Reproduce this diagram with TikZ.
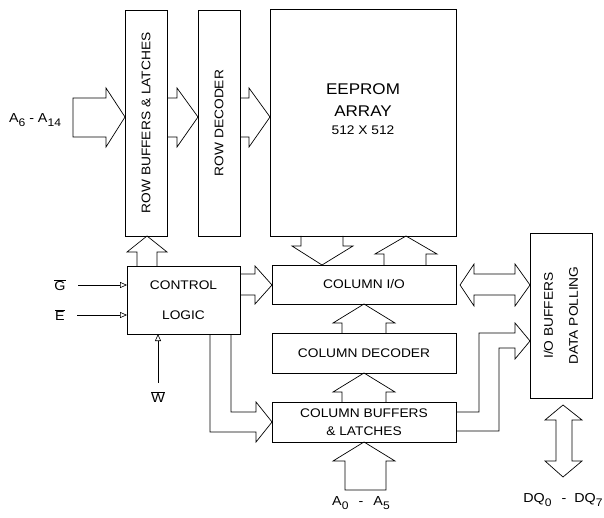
\documentclass[tikz,border=0pt]{standalone}
\usepackage{fontspec}
\setmainfont{Liberation Sans}[FakeStretch=1.1]
\usepackage{tikz}
\usetikzlibrary{arrows.meta, positioning}

\newcommand{\pinsub}[1]{\raisebox{-0.6ex}{\fontsize{11}{12}\selectfont #1}}
\newcommand{\negsig}[1]{$\overline{\mbox{#1}}$}

\begin{document}
\begin{tikzpicture}[
    x=1pt, y=-1pt,
    line width=0.7pt,
    block/.style={draw, inner sep=0pt, outer sep=0pt, align=center, font=\fontsize{12.5}{14}\selectfont},
    fat/.style={draw, line join=miter},
    sig/.style={-{Triangle[open, length=7pt, width=6pt]}, line width=0.6pt},
    pin label/.style={font=\fontsize{13}{15}\selectfont}
]
    \useasboundingbox (0,0) rectangle (604,518);

    % Nodes
    \node[block, rotate=90, minimum width=226, minimum height=42] (rowbuf) at (146,123) {ROW BUFFERS \& LATCHES};
    \node[block, rotate=90, minimum width=226, minimum height=42] (rowdec) at (219,123) {ROW DECODER};
    \node[block, minimum width=186, minimum height=227] (array) at (363,122.5) {};
    \node[font=\fontsize{15.5}{22}\selectfont, align=center] (arraylbl) at (363,100) {EEPROM\\ARRAY};
    \node[font=\fontsize{12.5}{14}\selectfont] (arraysize) at (363,130) {512 X 512};
    \node[block, minimum width=113, minimum height=68] (ctrl) at (183.5,300) {CONTROL\\[16pt]LOGIC};
    \node[block, minimum width=184, minimum height=39] (colio) at (364,284.5) {COLUMN I/O};
    \node[block, minimum width=184, minimum height=40] (coldec) at (364,353) {COLUMN DECODER};
    \node[block, minimum width=184, minimum height=40] (colbuf) at (364,422) {COLUMN BUFFERS\\[4pt]\& LATCHES};
    \node[block, rotate=90, minimum width=165, minimum height=62, font=\fontsize{12.5}{25}\selectfont] (iobuf) at (561,315.5) {I/O BUFFERS\\DATA POLLING};

    % Pin labels
    \node[pin label] (ahigh) at (35,120) {A\pinsub{6} - A\pinsub{14}};
    \node[pin label] (alow) at (361,503) {A\pinsub{0} \, - \ \,A\pinsub{5}};
    \node[pin label] (dq) at (563,500) {DQ\pinsub{0} \, - \ DQ\pinsub{7}};
    \node[pin label] (G) at (60,285) {\negsig{G}};
    \node[pin label] (E) at (60,315) {\negsig{E}};
    \node[pin label] (W) at (158,397) {\negsig{W}};

    % Control inputs
    \draw[sig] ([xshift=9pt]G.east) -- (G.east -| ctrl.west);
    \draw[sig] ([xshift=9pt]E.east) -- (E.east -| ctrl.west);
    \draw[sig] ([yshift=5pt]W.north) -- (W.north |- ctrl.south);

    % Wide arrows (buses)
    \draw[fat] (73,98) -- (106,98) -- (106,88) -- (125,117) -- (106,147) -- (106,137) -- (73,137) -- cycle;
    \draw[fat] (167,98) -- (177,98) -- (177,88) -- (198,117) -- (177,147) -- (177,137) -- (167,137);
    \draw[fat] (240,98) -- (249,98) -- (249,88) -- (270,117) -- (249,147) -- (249,137) -- (240,137);
    \draw[fat] (240,274) -- (255,274) -- (255,266) -- (272,285) -- (255,304) -- (255,295) -- (240,295);
    \draw[fat] (210,334) -- (210,432) -- (256,432) -- (256,442) -- (272,422) -- (256,402) -- (256,412) -- (231,412) -- (231,334);
    \draw[fat] (137,266) -- (137,252) -- (127,252) -- (147,236) -- (167,252) -- (157,252) -- (157,266);
    \draw[fat] (301,236) -- (301,246) -- (292,246) -- (322,265) -- (353,246) -- (343,246) -- (343,236);
    \draw[fat] (384,265) -- (384,254) -- (375,254) -- (406,236) -- (437,254) -- (426,254) -- (426,265);
    \draw[fat] (342,333) -- (342,323) -- (333,323) -- (364,304) -- (395,323) -- (386,323) -- (386,333);
    \draw[fat] (342,402) -- (342,392) -- (333,392) -- (364,373) -- (395,392) -- (386,392) -- (386,402);
    \draw[fat] (345,490) -- (345,461) -- (333,461) -- (364,442) -- (395,461) -- (386,461) -- (386,490) -- cycle;
    \draw[fat] (456,412) -- (479,412) -- (479,333) -- (515,333) -- (515,323) -- (530,341) -- (515,359) -- (515,348) -- (499,348) -- (499,431) -- (456,431);
    \draw[fat] (460,285) -- (474,264) -- (474,274) -- (515,274) -- (515,264) -- (530,285) -- (515,306) -- (515,295) -- (474,295) -- (474,306) -- cycle;
    \draw[fat] (563,405) -- (582,420) -- (572,420) -- (572,461) -- (582,461) -- (563,477) -- (545,461) -- (556,461) -- (556,420) -- (545,420) -- cycle;
\end{tikzpicture}
\end{document}
